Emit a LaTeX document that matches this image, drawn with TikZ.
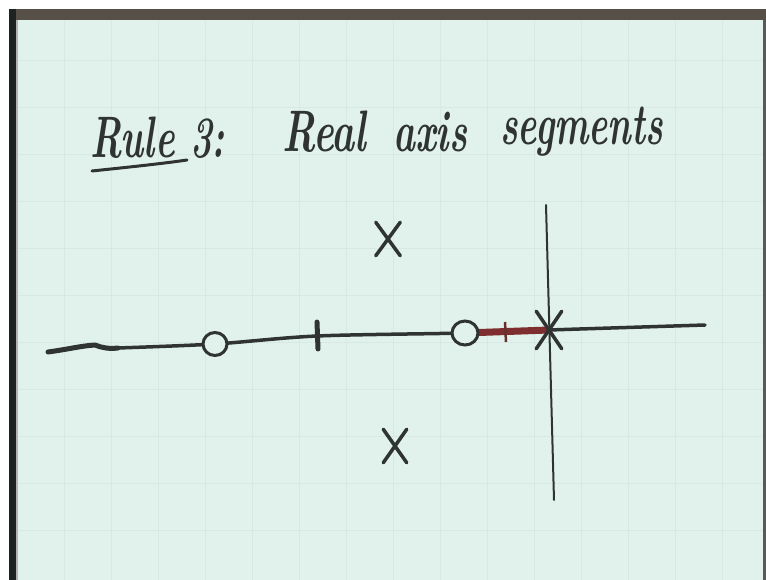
\documentclass[tikz,border=0pt]{standalone}
\usepackage{graphicx}
\usetikzlibrary{shapes.misc,shapes.geometric}
\definecolor{board}{HTML}{E1F2EC}
\definecolor{gridc}{HTML}{D7E9E2}
\definecolor{ink}{HTML}{2F3331}
\definecolor{redink}{HTML}{7E2E2E}
\definecolor{frametop}{HTML}{575049}
\definecolor{frameleft}{HTML}{1E2320}
\tikzset{
  hand/.style={font=\fontsize{39}{44}\selectfont\bfseries\itshape, text=ink, inner sep=0pt, anchor=base west},
  axisline/.style={draw=ink, line width=3.5pt, line cap=round, line join=round},
  zero/.style={ellipse, draw=ink, fill=board, line width=3pt, minimum width=24pt, minimum height=23pt, inner sep=0pt},
  pole/.style={cross out, draw=ink, line width=3.5pt, inner sep=0pt, line cap=round},
  markstroke/.style={draw=ink, line width=5pt, line cap=round}
}
\begin{document}
\begin{tikzpicture}[x=1pt,y=-1pt]
\useasboundingbox (0,0) rectangle (766,580);
\fill[white] (0,0) rectangle (766,580);
\fill[board] (9,9) rectangle (766,580);
% faint grid
\foreach \gx in {64,111,158,205,252,299,346,393,440,487,534,581,628,675,722}
  \draw[gridc, line width=0.8pt] (\gx,20) -- (\gx,580);
\foreach \gy in {60,107,154,201,248,295,342,389,436,483,530}
  \draw[gridc, line width=0.8pt] (17,\gy) -- (763,\gy);
% frame
\fill[frametop] (9,9) rectangle (766,20);
\fill[frameleft] (9,9) rectangle (16,580);
\fill[gray!60] (16,20) rectangle (18,580);
\fill[gray!70!black] (763,20) rectangle (766,580);
% title
\node[hand] (t1) at (90,158) {\scalebox{0.95}[1.5]{Rule 3:}};
\node[hand] (t2) at (282,152) {\scalebox{1}[1.5]{Real}};
\node[hand] (t3) at (393,152) {\scalebox{0.95}[1.5]{axis}};
\node[hand] (t4) at (500,145) {\scalebox{0.93}[1.5]{segments}};
\coordinate (u1) at (92,171);
\coordinate (u2) at (187,160);
\draw[draw=ink, line width=3pt, line cap=round] (u1) .. controls (120,168) and (160,164) .. (u2);
% axes points
\coordinate (a0) at (48,352);
\coordinate (a1) at (95,345);
\coordinate (a2) at (118,348);
\coordinate (pz1) at (215,344);
\coordinate (ptk) at (317,336);
\coordinate (pz2) at (465,333);
\coordinate (pp) at (549,330);
\coordinate (aend) at (705,325);
\coordinate (vtop) at (546,205);
\coordinate (vbot) at (554,500);
% vertical axis
\draw[draw=ink, line width=2pt, line cap=round] (vtop) -- (vbot);
% real axis
\draw[axisline, line width=5pt] (a0) .. controls (70,349) and (80,346) .. (a1) .. controls (102,348) and (110,349) .. (a2);
\draw[axisline] plot[smooth, tension=0.5] coordinates {(a2) (pz1) (ptk) (pz2) (pp) (aend)};
% red segment
\draw[draw=redink, line width=7pt] (pz2) -- (pp);
\coordinate (rt1) at (505,322);
\coordinate (rt2) at (506,342);
\draw[draw=redink!70!ink, line width=2.5pt] (rt1) -- (rt2);
% tick mark
\coordinate (tk1) at (317,322);
\coordinate (tk2) at (318,349);
\draw[markstroke] (tk1) -- (tk2);
% zeros
\node[zero] (z1) at (pz1) {};
\node[zero, minimum width=26pt, minimum height=24pt] (z2) at (pz2) {};
% poles
\node[pole, minimum width=22pt, minimum height=34pt] (p0) at (pp) {};
\node[pole, minimum width=21pt, minimum height=30pt] (p1) at (388,239) {};
\node[pole, minimum width=20pt, minimum height=30pt] (p2) at (395,446) {};
\end{tikzpicture}
\end{document}
